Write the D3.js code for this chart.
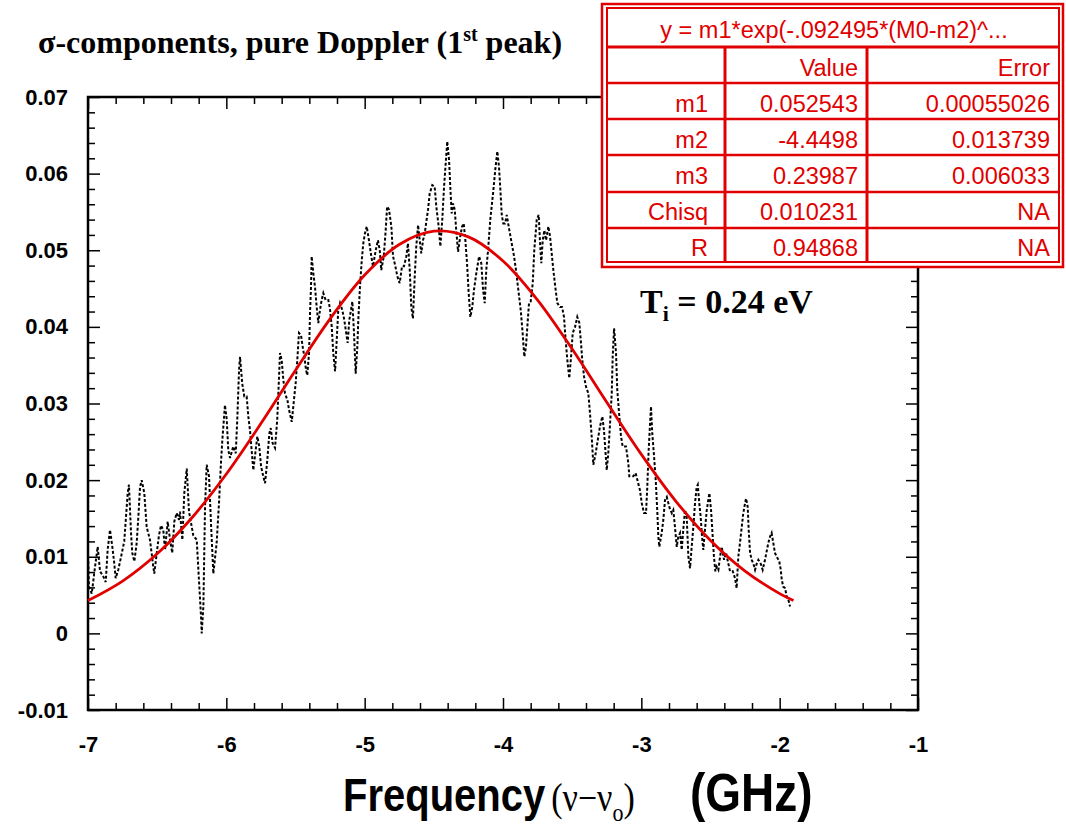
<!DOCTYPE html>
<html lang="en">
<head>
<meta charset="UTF-8">
<title>sigma components, pure Doppler</title>
<style>
  body { margin: 0; background: #fff; }
  .tick-lbl { font-family: "Liberation Sans", Arial, sans-serif; font-weight: bold; font-size: 22px; fill: #000; }
  .cell { font-family: "Liberation Sans", Arial, sans-serif; font-size: 23.5px; fill: #e00000; }
</style>
</head>
<body>
<div id="chart"></div>
<script src="https://d3js.org/d3.v7.min.js"></script>
<script>
// measured spectrum (GHz, intensity)
const freq = [-6.998,-6.993,-6.973,-6.949,-6.930,-6.913,-6.889,-6.872,-6.858,-6.841,-6.824,-6.810,-6.800,-6.781,-6.761,-6.738,-6.727,-6.713,-6.704,-6.689,
  -6.680,-6.665,-6.648,-6.636,-6.624,-6.612,-6.593,-6.576,-6.552,-6.528,-6.521,-6.503,-6.487,-6.472,-6.456,-6.443,-6.424,-6.407,-6.391,-6.376,
  -6.359,-6.342,-6.335,-6.318,-6.304,-6.286,-6.270,-6.250,-6.239,-6.214,-6.198,-6.183,-6.178,-6.166,-6.154,-6.142,-6.125,-6.111,-6.094,-6.070,
  -6.053,-6.039,-6.029,-6.010,-5.997,-5.986,-5.973,-5.950,-5.932,-5.921,-5.908,-5.901,-5.885,-5.870,-5.853,-5.841,-5.829,-5.817,-5.805,-5.788,
  -5.776,-5.762,-5.749,-5.733,-5.720,-5.704,-5.689,-5.679,-5.665,-5.648,-5.632,-5.619,-5.612,-5.600,-5.588,-5.576,-5.559,-5.547,-5.527,-5.511,
  -5.499,-5.487,-5.475,-5.460,-5.448,-5.436,-5.424,-5.415,-5.402,-5.395,-5.388,-5.383,-5.371,-5.359,-5.347,-5.335,-5.323,-5.311,-5.299,-5.282,
  -5.263,-5.251,-5.238,-5.227,-5.214,-5.202,-5.191,-5.178,-5.162,-5.147,-5.137,-5.123,-5.111,-5.099,-5.089,-5.077,-5.065,-5.053,-5.046,-5.034,
  -5.021,-5.010,-4.998,-4.985,-4.969,-4.952,-4.940,-4.920,-4.904,-4.891,-4.880,-4.862,-4.848,-4.838,-4.824,-4.807,-4.795,-4.778,-4.764,-4.747,
  -4.730,-4.716,-4.699,-4.687,-4.674,-4.663,-4.651,-4.638,-4.627,-4.614,-4.602,-4.591,-4.578,-4.566,-4.542,-4.530,-4.511,-4.494,-4.482,-4.465,
  -4.453,-4.439,-4.426,-4.414,-4.403,-4.390,-4.381,-4.371,-4.361,-4.349,-4.338,-4.325,-4.309,-4.296,-4.284,-4.272,-4.260,-4.248,-4.236,-4.222,
  -4.210,-4.193,-4.173,-4.157,-4.144,-4.132,-4.121,-4.108,-4.092,-4.072,-4.056,-4.041,-4.029,-4.019,-4.009,-3.998,-3.985,-3.973,-3.954,-3.937,
  -3.920,-3.906,-3.889,-3.872,-3.858,-3.846,-3.834,-3.824,-3.812,-3.800,-3.785,-3.774,-3.756,-3.742,-3.732,-3.723,-3.713,-3.701,-3.689,-3.672,
  -3.660,-3.648,-3.636,-3.622,-3.607,-3.588,-3.573,-3.559,-3.549,-3.535,-3.521,-3.508,-3.496,-3.479,-3.463,-3.448,-3.438,-3.427,-3.414,-3.400,
  -3.383,-3.371,-3.359,-3.347,-3.330,-3.315,-3.299,-3.282,-3.270,-3.260,-3.250,-3.239,-3.226,-3.214,-3.207,-3.197,-3.183,-3.174,-3.159,-3.147,
  -3.135,-3.111,-3.094,-3.087,-3.058,-3.041,-3.010,-2.997,-2.981,-2.966,-2.957,-2.947,-2.937,-2.930,-2.921,-2.908,-2.896,-2.884,-2.877,-2.870,
  -2.853,-2.841,-2.829,-2.816,-2.798,-2.780,-2.769,-2.757,-2.744,-2.733,-2.720,-2.708,-2.697,-2.684,-2.672,-2.660,-2.648,-2.636,-2.624,-2.612,
  -2.600,-2.592,-2.581,-2.571,-2.561,-2.552,-2.540,-2.527,-2.516,-2.508,-2.496,-2.484,-2.475,-2.465,-2.455,-2.443,-2.431,-2.419,-2.402,-2.388,
  -2.371,-2.359,-2.339,-2.323,-2.311,-2.299,-2.287,-2.274,-2.263,-2.250,-2.243,-2.231,-2.224,-2.214,-2.202,-2.190,-2.178,-2.166,-2.154,-2.137,
  -2.123,-2.106,-2.094,-2.082,-2.070,-2.058,-2.046,-2.034,-2.021,-2.003,-1.992,-1.985,-1.974,-1.961,-1.949,-1.937,-1.925];
const signal = [0.0094,0.0061,0.0052,0.0087,0.0113,0.0081,0.0074,0.0067,0.0109,0.0135,0.0113,0.0091,0.0072,0.0083,0.0100,0.0120,0.0148,0.0183,0.0194,0.0131,
  0.0105,0.0094,0.0118,0.0152,0.0191,0.0200,0.0183,0.0139,0.0122,0.0087,0.0078,0.0105,0.0128,0.0141,0.0135,0.0109,0.0146,0.0122,0.0105,0.0146,
  0.0157,0.0148,0.0159,0.0122,0.0183,0.0215,0.0159,0.0139,0.0128,0.0122,0.0070,0.0022,0.0000,0.0035,0.0165,0.0220,0.0205,0.0144,0.0078,0.0118,
  0.0170,0.0222,0.0252,0.0298,0.0279,0.0239,0.0229,0.0244,0.0235,0.0279,0.0344,0.0361,0.0326,0.0309,0.0309,0.0283,0.0265,0.0239,0.0213,0.0239,
  0.0257,0.0244,0.0218,0.0205,0.0196,0.0226,0.0261,0.0268,0.0248,0.0242,0.0279,0.0335,0.0366,0.0357,0.0331,0.0313,0.0305,0.0292,0.0276,0.0305,
  0.0326,0.0357,0.0392,0.0389,0.0374,0.0361,0.0344,0.0337,0.0366,0.0418,0.0452,0.0492,0.0470,0.0452,0.0426,0.0405,0.0422,0.0435,0.0444,0.0435,
  0.0435,0.0424,0.0400,0.0366,0.0342,0.0383,0.0422,0.0431,0.0422,0.0409,0.0396,0.0379,0.0409,0.0422,0.0433,0.0392,0.0339,0.0374,0.0409,0.0452,
  0.0487,0.0509,0.0522,0.0531,0.0513,0.0492,0.0479,0.0500,0.0513,0.0500,0.0474,0.0492,0.0526,0.0557,0.0553,0.0531,0.0492,0.0479,0.0466,0.0457,
  0.0479,0.0479,0.0492,0.0509,0.0474,0.0426,0.0411,0.0466,0.0505,0.0533,0.0513,0.0496,0.0513,0.0522,0.0553,0.0574,0.0585,0.0583,0.0557,0.0531,
  0.0505,0.0540,0.0583,0.0614,0.0642,0.0618,0.0583,0.0548,0.0561,0.0553,0.0526,0.0498,0.0518,0.0531,0.0535,0.0513,0.0483,0.0444,0.0413,0.0426,
  0.0448,0.0470,0.0492,0.0483,0.0448,0.0431,0.0474,0.0500,0.0540,0.0574,0.0605,0.0629,0.0609,0.0579,0.0546,0.0535,0.0535,0.0546,0.0526,0.0509,
  0.0492,0.0474,0.0448,0.0422,0.0392,0.0361,0.0374,0.0400,0.0431,0.0433,0.0457,0.0500,0.0540,0.0546,0.0509,0.0483,0.0513,0.0526,0.0513,0.0531,
  0.0518,0.0496,0.0474,0.0452,0.0431,0.0426,0.0426,0.0413,0.0387,0.0357,0.0333,0.0361,0.0392,0.0400,0.0413,0.0405,0.0383,0.0357,0.0335,0.0322,
  0.0313,0.0287,0.0257,0.0220,0.0235,0.0252,0.0270,0.0283,0.0265,0.0239,0.0213,0.0235,0.0274,0.0313,0.0361,0.0398,0.0366,0.0318,0.0283,0.0257,
  0.0244,0.0244,0.0222,0.0205,0.0205,0.0209,0.0187,0.0170,0.0157,0.0157,0.0191,0.0239,0.0274,0.0296,0.0261,0.0231,0.0200,0.0157,0.0126,0.0113,
  0.0131,0.0148,0.0174,0.0178,0.0165,0.0157,0.0161,0.0139,0.0113,0.0126,0.0131,0.0109,0.0135,0.0161,0.0152,0.0100,0.0085,0.0113,0.0139,0.0170,
  0.0191,0.0194,0.0170,0.0152,0.0126,0.0109,0.0135,0.0161,0.0174,0.0183,0.0161,0.0126,0.0100,0.0081,0.0087,0.0083,0.0100,0.0113,0.0096,0.0105,
  0.0091,0.0081,0.0081,0.0072,0.0059,0.0100,0.0118,0.0139,0.0157,0.0170,0.0176,0.0165,0.0135,0.0105,0.0096,0.0091,0.0083,0.0091,0.0096,0.0091,
  0.0083,0.0096,0.0107,0.0118,0.0126,0.0131,0.0118,0.0105,0.0100,0.0094,0.0083,0.0070,0.0061,0.0059,0.0048,0.0044,0.0035];

// gaussian fit curve, sampled
const fitFreq = [-7,-6.75,-6.5,-6.25,-6,-5.75,-5.5,-5.25,-5,-4.75,-4.5,-4.25,-4,-3.75,-3.5,-3.25,-3,-2.75,-2.5,-2.25,-2,-1.9];
const fitValue = [0.00428,0.00683,0.01039,0.01506,0.02080,0.02738,0.03434,0.04105,0.04676,0.05075,0.05249,0.05174,0.04860,0.04350,0.03711,0.03016,0.02336,0.01724,0.01213,0.00813,0.00519,0.00428];

// fit results table
const fitFormula = "y = m1*exp(-.092495*(M0-m2)^...";
const paramNames = ["m1", "m2", "m3", "Chisq", "R"];
const paramValues = ["0.052543", "-4.4498", "0.23987", "0.010231", "0.94868"];
const paramErrors = ["0.00055026", "0.013739", "0.006033", "NA", "NA"];

// axis ticks
const xMajor = [-7, -6, -5, -4, -3, -2, -1];
const yMajor = [-0.01, 0, 0.01, 0.02, 0.03, 0.04, 0.05, 0.06, 0.07];

const W = 1066, H = 827;
const red = "#e00000";

const svg = d3.select("#chart").append("svg")
  .attr("width", W)
  .attr("height", H);

const x = d3.scaleLinear().domain([-7, -1]).range([88, 918]);
const y = d3.scaleLinear().domain([-0.01, 0.07]).range([710, 97]);

const xMinor = d3.range(-7, -1.0001, 0.2).filter(v => Math.abs(v - Math.round(v)) > 0.01);
const yMinor = d3.range(-0.01, 0.07001, 0.002).filter(v => Math.abs(v * 100 - Math.round(v * 100)) > 0.01);

function fmtY(d) {
  if (Math.abs(d) < 1e-9) return "0";
  return d.toFixed(2);
}

// bottom
svg.append("g")
  .attr("transform", `translate(0,${y.range()[0]})`)
  .call(d3.axisBottom(x).tickValues(xMajor).tickSize(-12).tickPadding(26).tickFormat(d => String(d)))
  .call(g => g.selectAll("text").attr("class", "tick-lbl"));
svg.append("g")
  .attr("transform", `translate(0,${y.range()[0]})`)
  .call(d3.axisBottom(x).tickValues(xMinor).tickSize(-7).tickFormat(""));
// top
svg.append("g")
  .attr("transform", `translate(0,${y.range()[1]})`)
  .call(d3.axisTop(x).tickValues(xMajor).tickSize(-12).tickFormat(""));
svg.append("g")
  .attr("transform", `translate(0,${y.range()[1]})`)
  .call(d3.axisTop(x).tickValues(xMinor).tickSize(-7).tickFormat(""));
// left
svg.append("g")
  .attr("transform", `translate(${x.range()[0]},0)`)
  .call(d3.axisLeft(y).tickValues(yMajor).tickSize(-12).tickPadding(20).tickFormat(fmtY))
  .call(g => g.selectAll("text").attr("class", "tick-lbl"));
svg.append("g")
  .attr("transform", `translate(${x.range()[0]},0)`)
  .call(d3.axisLeft(y).tickValues(yMinor).tickSize(-7).tickFormat(""));
// right
svg.append("g")
  .attr("transform", `translate(${x.range()[1]},0)`)
  .call(d3.axisRight(y).tickValues(yMajor).tickSize(-12).tickFormat(""));
svg.append("g")
  .attr("transform", `translate(${x.range()[1]},0)`)
  .call(d3.axisRight(y).tickValues(yMinor).tickSize(-7).tickFormat(""));

svg.selectAll(".domain").remove();
svg.selectAll(".tick line").attr("stroke", "#000").attr("stroke-width", 1.5);

// frame
svg.append("rect")
  .attr("x", x.range()[0]).attr("y", y.range()[1])
  .attr("width", x.range()[1] - x.range()[0])
  .attr("height", y.range()[0] - y.range()[1])
  .attr("fill", "none").attr("stroke", "#000").attr("stroke-width", 2.5);

// data (dotted)
const pts = freq.map((f, i) => [f, signal[i]]);
svg.append("path")
  .datum(pts)
  .attr("fill", "none")
  .attr("stroke", "#000")
  .attr("stroke-width", 2)
  .attr("stroke-dasharray", "3,2")
  .attr("d", d3.line().x(d => x(d[0])).y(d => y(d[1])));

// fit
svg.append("path")
  .datum(fitFreq.map((f, i) => [f, fitValue[i]]))
  .attr("fill", "none")
  .attr("stroke", red)
  .attr("stroke-width", 2.8)
  .attr("d", d3.line().curve(d3.curveCatmullRom).x(d => x(d[0])).y(d => y(d[1])));

// title
const title = svg.append("text")
  .attr("x", 38).attr("y", 53)
  .style("font-family", "'Liberation Serif', 'Times New Roman', serif")
  .style("font-weight", "bold")
  .style("font-size", "32px");
title.append("tspan").text("\u03c3-components, pure Doppler (1");
title.append("tspan").attr("dy", -12).style("font-size", "20px").text("st");
title.append("tspan").attr("dy", 12).text(" peak)");

// T_i annotation
const ti = svg.append("text")
  .attr("x", 640).attr("y", 313)
  .style("font-family", "'Liberation Serif', 'Times New Roman', serif")
  .style("font-weight", "bold")
  .style("font-size", "34px");
ti.append("tspan").text("T");
ti.append("tspan").attr("dy", 8).style("font-size", "22px").text("i");
ti.append("tspan").attr("dy", -8).text(" = 0.24 eV");

// x axis title (slightly stretched vertically like the original)
const xt = svg.append("text")
  .attr("transform", "translate(343,811) scale(1,1.15)")
  .style("font-family", "'Liberation Sans', Arial, sans-serif")
  .style("font-weight", "bold")
  .style("font-size", "40px");
xt.append("tspan").text("Frequency");
const serif = "'Liberation Serif', serif";
xt.append("tspan").attr("dx", 6).style("font-family", serif).style("font-weight", "normal").style("font-size", "34px").text("(\u03bd\u2212\u03bd");
xt.append("tspan").attr("dy", 9).style("font-family", serif).style("font-weight", "normal").style("font-size", "22px").text("o");
xt.append("tspan").attr("dy", -9).style("font-family", serif).style("font-weight", "normal").style("font-size", "34px").text(")");
xt.append("tspan").attr("x", 347).style("font-size", "46px").text("(GHz)");

// fit table
const box = svg.append("g");
box.append("rect").attr("x", 602).attr("y", 4).attr("width", 461).attr("height", 263)
  .attr("fill", "#fff").attr("stroke", red).attr("stroke-width", 2.5);
box.append("rect").attr("x", 607).attr("y", 8).attr("width", 452).attr("height", 254)
  .attr("fill", "none").attr("stroke", red).attr("stroke-width", 2);

const rowLines = [47, 83, 119, 155, 192, 228];
box.selectAll(".hline").data(rowLines).enter().append("line")
  .attr("x1", 607).attr("x2", 1059)
  .attr("y1", d => d).attr("y2", d => d)
  .attr("stroke", red).attr("stroke-width", (d, i) => i === 0 ? 3 : 2.5);
box.selectAll(".vline").data([725, 867]).enter().append("line")
  .attr("x1", d => d).attr("x2", d => d)
  .attr("y1", 47).attr("y2", 262)
  .attr("stroke", red).attr("stroke-width", 3);

box.append("text").attr("class", "cell")
  .attr("x", 834).attr("y", 38).attr("text-anchor", "middle").text(fitFormula);
box.append("text").attr("class", "cell")
  .attr("x", 858).attr("y", 76).attr("text-anchor", "end").text("Value");
box.append("text").attr("class", "cell")
  .attr("x", 1050).attr("y", 76).attr("text-anchor", "end").text("Error");

const rowBase = [112, 148, 184, 220, 256];
paramNames.forEach((n, i) => {
  box.append("text").attr("class", "cell").attr("x", 708).attr("y", rowBase[i]).attr("text-anchor", "end").text(n);
  box.append("text").attr("class", "cell").attr("x", 858).attr("y", rowBase[i]).attr("text-anchor", "end").text(paramValues[i]);
  box.append("text").attr("class", "cell").attr("x", 1050).attr("y", rowBase[i]).attr("text-anchor", "end").text(paramErrors[i]);
});
</script>
</body>
</html>
